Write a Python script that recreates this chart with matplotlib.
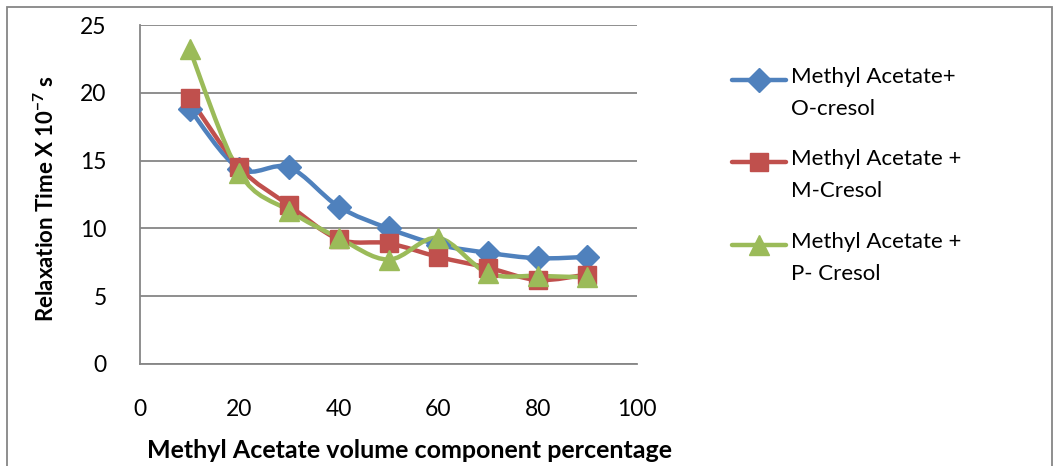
import matplotlib
matplotlib.use('Agg')
import matplotlib.pyplot as plt
from matplotlib.path import Path
from matplotlib.patches import PathPatch, Rectangle
from matplotlib.lines import Line2D

plt.rcParams['font.family'] = ['Lato', 'DejaVu Sans']
plt.rcParams['mathtext.default'] = 'regular'

# --- Data ---
volume_pct = [10, 20, 30, 40, 50, 60, 70, 80, 90]
o_cresol = [18.8, 14.4, 14.5, 11.6, 10.0, 8.8, 8.2, 7.8, 7.9]
m_cresol = [19.6, 14.5, 11.7, 9.2, 8.9, 7.9, 7.1, 6.2, 6.6]
p_cresol = [23.2, 14.1, 11.3, 9.3, 7.7, 9.3, 6.7, 6.5, 6.4]

series_labels = ['Methyl Acetate+\nO-cresol', 'Methyl Acetate +\nM-Cresol', 'Methyl Acetate +\nP- Cresol']
colors = ['#4F81BD', '#C0504D', '#9BBB59']
markers = ['D', 's', '^']
marker_sizes = [12.5, 13.5, 14.5]


def smooth_path(xs, ys):
    # Excel-like smoothed line: cubic bezier segments (Catmull-Rom control points)
    pts = list(zip(xs, ys))
    verts = [pts[0]]
    codes = [Path.MOVETO]
    n = len(pts)
    for i in range(n - 1):
        p0 = pts[i - 1] if i > 0 else pts[i]
        p1 = pts[i]
        p2 = pts[i + 1]
        p3 = pts[i + 2] if i + 2 < n else pts[i + 1]
        c1 = (p1[0] + (p2[0] - p0[0]) / 6.0, p1[1] + (p2[1] - p0[1]) / 6.0)
        c2 = (p2[0] - (p3[0] - p1[0]) / 6.0, p2[1] - (p3[1] - p1[1]) / 6.0)
        verts += [c1, c2, p2]
        codes += [Path.CURVE4] * 3
    return Path(verts, codes)


fig = plt.figure(figsize=(10.58, 4.66), dpi=100)
ax = fig.add_axes([140 / 1058, 102 / 466, 497 / 1058, 339 / 466])

all_series = [o_cresol, m_cresol, p_cresol]
for vals, col, mk, ms in zip(all_series, colors, markers, marker_sizes):
    patch = PathPatch(smooth_path(volume_pct, vals), facecolor='none', edgecolor=col,
                      linewidth=3.2, capstyle='round', joinstyle='round', zorder=3)
    ax.add_patch(patch)
    ax.plot(volume_pct, vals, linestyle='none', marker=mk, markersize=ms,
            color=col, markeredgecolor=col, zorder=4)

ax.set_xlim(0, 100)
ax.set_ylim(0, 25)
ax.set_xticks([0, 20, 40, 60, 80, 100])
ax.set_yticks([0, 5, 10, 15, 20, 25])
ax.yaxis.grid(True, color='#868686', linewidth=1.3)
ax.set_axisbelow(True)
for side in ['top', 'right']:
    ax.spines[side].set_visible(False)
for side in ['left', 'bottom']:
    ax.spines[side].set_color('#868686')
    ax.spines[side].set_linewidth(1.3)
ax.tick_params(axis='both', length=0, labelsize=16.5)
ax.tick_params(axis='y', pad=24)
ax.tick_params(axis='x', pad=25)

ax.set_xlabel('Methyl Acetate volume component percentage', fontsize=18,
              fontweight='bold')
ax.xaxis.set_label_coords(0.543, -0.222)
ax.set_ylabel(r'Relaxation Time X 10$^{-7}$ s', fontsize=16, fontweight='bold')
ax.yaxis.set_label_coords(-0.165, 0.487)

# legend drawn at the right, marker aligned with first text line (Excel style)
legend_y = [80, 162, 245]
for lab, col, mk, ms, yy in zip(series_labels, colors, markers, marker_sizes, legend_y):
    yf = 1 - yy / 466
    fig.add_artist(Line2D([732 / 1058, 786 / 1058], [yf, yf], color=col, linewidth=3.2,
                          solid_capstyle='round', marker='none'))
    fig.add_artist(Line2D([759 / 1058], [yf], color=col, marker=mk, markersize=ms,
                          linestyle='none'))
    fig.text(791 / 1058, yf + 13 / 466, lab, fontsize=16, va='top', ha='left',
             linespacing=1.75)

# chart border
fig.add_artist(Rectangle((7 / 1058, -0.02), 1045 / 1058, 1 - 7 / 466 + 0.02,
                         transform=fig.transFigure, fill=False,
                         edgecolor='#868686', linewidth=1.3))

fig.savefig('out.png', dpi=100)
